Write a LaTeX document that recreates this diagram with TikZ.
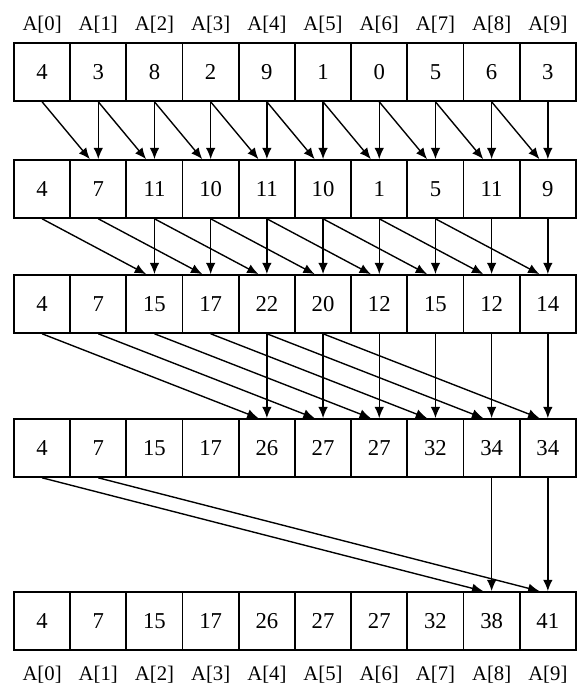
\documentclass[tikz,border=0pt]{standalone}
\usepackage{fontspec}
\setmainfont{Liberation Serif}
\usepackage{tikz}
\usetikzlibrary{arrows.meta, positioning}
\tikzset{
  cell/.style={draw, line width=0.9pt, minimum width=1cm, minimum height=1.03cm,
               inner sep=0pt, font=\fontsize{11.5}{13}\selectfont},
  idxlabel/.style={font=\fontsize{10.5}{12}\selectfont, inner sep=1pt},
  sumarrow/.style={-{Latex[length=2mm, width=1.7mm]}, line width=0.7pt}
}

\begin{document}
\begin{tikzpicture}

\useasboundingbox (0,0) rectangle (10.27,-12.19);

% Rows of the array after each step
\foreach \vals [count=\r from 0] in {
    {4,3,8,2,9,1,0,5,6,3},
    {4,7,11,10,11,10,1,5,11,9},
    {4,7,15,17,22,20,12,15,12,14},
    {4,7,15,17,26,27,27,32,34,34},
    {4,7,15,17,26,27,27,32,38,41}} {
  \pgfmathsetmacro\rowy{{-1.281,-3.363,-5.409,-7.972,-11.05}[\r]}
  \foreach \v [count=\i from 0] in \vals {
    \node[cell] (c\r-\i) at (0.749+\i,\rowy) {\v};
  }
}

% Index labels
\foreach \i in {0,...,9} {
  \node[idxlabel] (t\i) at (0.749+\i,-0.445) {A[\i]};
  \node[idxlabel] (b\i) at (0.749+\i,-12.01) {A[\i]};
}

% Additions
\foreach \r/\d in {0/1,1/2,2/4,3/8} {
  \pgfmathtruncatemacro\nr{\r+1}
  \foreach \j in {\d,...,9} {
    \pgfmathtruncatemacro\s{\j-\d}
    \draw[sumarrow] (c\r-\j.south) -- (c\nr-\j.north);
    \draw[sumarrow] (c\r-\s.south) -- ([xshift=-0.15cm]c\nr-\j.north);
  }
}

\end{tikzpicture}
\end{document}
